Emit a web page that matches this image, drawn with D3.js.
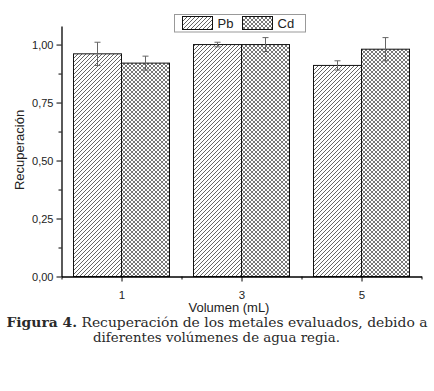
<!DOCTYPE html>
<html>
<head>
<meta charset="utf-8">
<script src="https://cdn.jsdelivr.net/npm/d3@7"></script>
<style>
  body { margin: 0; background: #fff; }
  text { font-family: "Liberation Sans", Arial, sans-serif; }
  text.caption { font-family: "DejaVu Serif", "Liberation Serif", serif; }
</style>
</head>
<body>
<svg id="chart" width="434" height="391"></svg>
<script>
var volumes = [1, 3, 5]
var pbValues = [0.96, 1.00, 0.91]
var cdValues = [0.92, 1.00, 0.98]
var pbErrors = [0.05, 0.01, 0.02]
var cdErrors = [0.03, 0.03, 0.05]
var yTicks = [0, 0.25, 0.5, 0.75, 1.0]
var yMinor = [0.125, 0.375, 0.625, 0.875]
var xMinor = [0, 2, 4, 6]

var dimensions = {
  width: 434,
  height: 391,
  margin: { top: 26, bottom: 114.5, left: 61.5, right: 12.5 }
}

var svg = d3.select("#chart")

var xScale = d3.scaleLinear()
  .domain([0, 6])
  .range([dimensions.margin.left, dimensions.width - dimensions.margin.right])

var yScale = d3.scaleLinear()
  .domain([0, 1.08])
  .range([dimensions.height - dimensions.margin.bottom, dimensions.margin.top])

var defs = svg.append("defs")

var hatch = defs.append("pattern")
  .attr("id", "hatch")
  .attr("patternUnits", "userSpaceOnUse")
  .attr("width", 4).attr("height", 4)
hatch.append("rect").attr("width", 4).attr("height", 4).attr("fill", "#fff")
hatch.append("path")
  .attr("d", "M-1,1 l2,-2 M0,4 l4,-4 M3,5 l2,-2")
  .attr("stroke", "#555").attr("stroke-width", 0.9)

var cross = defs.append("pattern")
  .attr("id", "cross")
  .attr("patternUnits", "userSpaceOnUse")
  .attr("width", 4).attr("height", 4)
cross.append("rect").attr("width", 4).attr("height", 4).attr("fill", "#fff")
cross.append("path")
  .attr("d", "M-1,1 l2,-2 M0,4 l4,-4 M3,5 l2,-2 M-1,3 l2,2 M0,0 l4,4 M3,-1 l2,2")
  .attr("stroke", "#555").attr("stroke-width", 0.8)

var barW = 0.8
var series = [
  { name: "Pb", values: pbValues, errors: pbErrors, fill: "url(#hatch)", offset: -barW },
  { name: "Cd", values: cdValues, errors: cdErrors, fill: "url(#cross)", offset: 0 }
]

series.forEach(function (s) {
  var g = svg.append("g")
  g.selectAll("rect")
    .data(volumes)
    .enter()
    .append("rect")
    .attr("x", (d, i) => xScale(d + s.offset))
    .attr("y", (d, i) => yScale(s.values[i]))
    .attr("width", xScale(barW) - xScale(0))
    .attr("height", (d, i) => yScale(0) - yScale(s.values[i]))
    .attr("fill", s.fill)
    .attr("stroke", "#111")
    .attr("stroke-width", 1)

  // error bars
  var eg = svg.append("g").attr("stroke", "#666").attr("stroke-width", 1)
  volumes.forEach(function (v, i) {
    var cx = xScale(v + s.offset + barW / 2)
    var top = yScale(s.values[i] + s.errors[i])
    var bot = yScale(s.values[i] - s.errors[i])
    eg.append("line").attr("x1", cx).attr("x2", cx).attr("y1", top).attr("y2", bot)
    eg.append("line").attr("x1", cx - 3).attr("x2", cx + 3).attr("y1", top).attr("y2", top)
    eg.append("line").attr("x1", cx - 3).attr("x2", cx + 3).attr("y1", bot).attr("y2", bot)
  })
})

// axes
var xAxisGen = d3.axisBottom(xScale).tickValues(volumes).tickSize(5).tickSizeOuter(0)
  .tickFormat(d3.format("d"))
var xAxis = svg.append("g")
  .attr("transform", `translate(0,${yScale(0)})`)
  .call(xAxisGen)
xAxis.select(".domain").attr("stroke-width", 1.3)
xAxis.selectAll("text").attr("font-size", 11.5).attr("fill", "#222").attr("dy", "1.25em")

svg.append("g")
  .attr("transform", `translate(0,${yScale(0)})`)
  .call(d3.axisBottom(xScale).tickValues(xMinor).tickSize(3).tickFormat(""))
  .select(".domain").remove()

var fmt = d => d3.format(".2f")(d).replace(".", ",")
var yAxisGen = d3.axisLeft(yScale).tickValues(yTicks).tickSize(5).tickSizeOuter(0).tickFormat(fmt)
var yAxis = svg.append("g")
  .attr("transform", `translate(${xScale(0)},0)`)
  .call(yAxisGen)
yAxis.select(".domain").attr("stroke-width", 1.3)
yAxis.selectAll("text").attr("font-size", 11).attr("fill", "#222")

svg.append("g")
  .attr("transform", `translate(${xScale(0)},0)`)
  .call(d3.axisLeft(yScale).tickValues(yMinor).tickSize(3).tickFormat(""))
  .select(".domain").remove()

// axis titles
svg.append("text")
  .attr("transform", "translate(24,150) rotate(-90)")
  .attr("text-anchor", "middle")
  .attr("font-size", 13)
  .attr("fill", "#222")
  .text("Recuperación")

svg.append("text")
  .attr("x", 229).attr("y", 312)
  .attr("text-anchor", "middle")
  .attr("font-size", 13)
  .attr("fill", "#222")
  .text("Volumen (mL)")

// legend
var legend = svg.append("g")
legend.append("rect")
  .attr("x", 174.5).attr("y", 14.5).attr("width", 131).attr("height", 17.5)
  .attr("fill", "#fff").attr("stroke", "#999")
series.forEach(function (s, i) {
  var lx = 182.5 + i * 60
  legend.append("rect")
    .attr("x", lx).attr("y", 16.5).attr("width", 30).attr("height", 13)
    .attr("fill", s.fill).attr("stroke", "#111")
  legend.append("text")
    .attr("x", lx + 35).attr("y", 28)
    .attr("font-size", 13).attr("fill", "#222")
    .text(s.name)
})

// caption
var cap = svg.append("g").attr("fill", "#2a2a2a")
var l1 = cap.append("text")
  .attr("class", "caption")
  .attr("x", 217).attr("y", 327)
  .attr("text-anchor", "middle")
  .attr("font-size", 13.5)
  .attr("textLength", 421)
  .attr("lengthAdjust", "spacingAndGlyphs")
l1.append("tspan").attr("font-weight", "bold").text("Figura 4.")
l1.append("tspan").text(" Recuperación de los metales evaluados, debido a")
cap.append("text")
  .attr("class", "caption")
  .attr("x", 216.5).attr("y", 342)
  .attr("text-anchor", "middle")
  .attr("font-size", 13.5)
  .attr("textLength", 247)
  .attr("lengthAdjust", "spacingAndGlyphs")
  .text("diferentes volúmenes de agua regia.")
</script>
</body>
</html>
